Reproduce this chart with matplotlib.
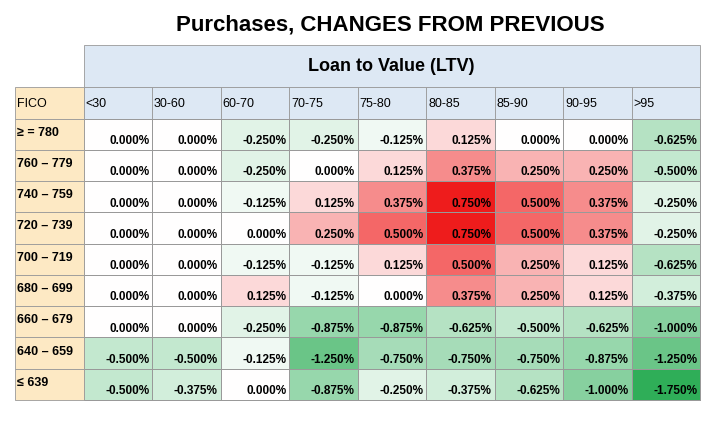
import matplotlib.pyplot as plt
import numpy as np
from matplotlib.colors import LinearSegmentedColormap, TwoSlopeNorm

plt.rcParams['font.family'] = ['Liberation Sans', 'DejaVu Sans']

ltv = ["<30", "30-60", "60-70", "70-75", "75-80", "80-85", "85-90", "90-95", ">95"]
fico = ["≥ = 780", "760 – 779", "740 – 759", "720 – 739", "700 – 719",
        "680 – 699", "660 – 679", "640 – 659", "≤ 639"]
values = np.array([
    [0, 0, -0.25, -0.25, -0.125, 0.125, 0, 0, -0.625],
    [0, 0, -0.25, 0, 0.125, 0.375, 0.25, 0.25, -0.5],
    [0, 0, -0.125, 0.125, 0.375, 0.75, 0.5, 0.375, -0.25],
    [0, 0, 0, 0.25, 0.5, 0.75, 0.5, 0.375, -0.25],
    [0, 0, -0.125, -0.125, 0.125, 0.5, 0.25, 0.125, -0.625],
    [0, 0, 0.125, -0.125, 0, 0.375, 0.25, 0.125, -0.375],
    [0, 0, -0.25, -0.875, -0.875, -0.625, -0.5, -0.625, -1.0],
    [-0.5, -0.5, -0.125, -1.25, -0.75, -0.75, -0.75, -0.875, -1.25],
    [-0.5, -0.375, 0, -0.875, -0.25, -0.375, -0.625, -1.0, -1.75],
])

cmap = LinearSegmentedColormap.from_list("ryg", ["#2fae58", "#ffffff", "#ee1c1c"])
norm = TwoSlopeNorm(vmin=-1.75, vcenter=0, vmax=0.75)

fig = plt.figure(figsize=(7.2, 4.23), dpi=100)
# grid area: x 15..700 px, y 45..400 px
ax = fig.add_axes([15 / 720, 1 - 400 / 423, 685 / 720, 355 / 423])
ncol = len(ltv) + 1
h_ltv, h_head, h_row = 1.35, 1.0, 1.0
y_edges = np.concatenate([[0, h_ltv, h_ltv + h_head],
                          h_ltv + h_head + h_row * np.arange(1, len(fico) + 1)])
ax.set_xlim(0, ncol)
ax.set_ylim(y_edges[-1], 0)
ax.axis("off")

blue, beige = "#dde8f4", "#fde9c4"
# LTV header band
ax.add_patch(plt.Rectangle((1, 0), ncol - 1, h_ltv, fc=blue, ec="#999999", lw=0.6, clip_on=False))
ax.text(1 + (ncol - 1) / 2, h_ltv / 2, "Loan to Value (LTV)", ha="center", va="center",
        fontsize=13, fontweight="bold")
# column headers
y0 = y_edges[1]
ax.add_patch(plt.Rectangle((0, y0), 1, h_head, fc=beige, ec="#999999", lw=0.6, clip_on=False))
ax.text(0.03, y0 + h_head * 0.55, "FICO", ha="left", va="center", fontsize=9)
for j, lab in enumerate(ltv):
    ax.add_patch(plt.Rectangle((j + 1, y0), 1, h_head, fc=blue, ec="#999999", lw=0.6, clip_on=False))
    ax.text(j + 1.03, y0 + h_head * 0.55, lab, ha="left", va="center", fontsize=9)

# data
ax.pcolormesh(np.arange(1, ncol + 1), y_edges[2:], values, cmap=cmap, norm=norm,
              edgecolors="#999999", linewidth=0.5, clip_on=False)
for i, lab in enumerate(fico):
    yt = y_edges[2 + i]
    ax.add_patch(plt.Rectangle((0, yt), 1, h_row, fc=beige, ec="#999999", lw=0.6, clip_on=False))
    ax.text(0.03, yt + h_row * 0.45, lab, ha="left", va="center", fontsize=9, fontweight="bold")
    for j, v in enumerate(values[i]):
        ax.text(j + 1.96, yt + h_row * 0.72, f"{v:.3f}%", ha="right", va="center",
                fontsize=8.5, fontweight="bold")

fig.text(390 / 720, 1 - 25 / 423, "Purchases, CHANGES FROM PREVIOUS", ha="center",
         va="center", fontsize=16, fontweight="bold")
fig.savefig("out.png", dpi=100)
